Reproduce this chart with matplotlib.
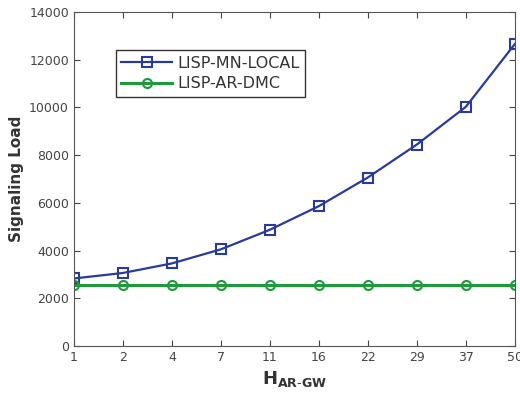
import numpy as np
import matplotlib.pyplot as plt

x_labels = ['1', '2', '4', '7', '11', '16', '22', '29', '37', '50']
mn_local = [2830, 3060, 3460, 4050, 4870, 5860, 7060, 8440, 10020, 12650]
ar_dmc = [2560, 2560, 2560, 2560, 2560, 2560, 2560, 2560, 2560, 2560]

fig = plt.figure(figsize=(5.2, 3.95), dpi=100)
ax = fig.add_axes([0.142, 0.124, 0.848, 0.846])
xs = np.arange(len(x_labels))

ax.plot(xs, mn_local, color='#2a3a9a', marker='s', markersize=7, mfc='none', mew=1.5, lw=1.6, label='LISP-MN-LOCAL')
ax.plot(xs, ar_dmc, color='#1e9a3a', marker='o', markersize=6.5, mfc='none', mew=1.5, lw=2.2, label='LISP-AR-DMC')

ax.set_xlim(0, len(x_labels) - 1)
ax.set_ylim(0, 14000)
ax.set_xticks(xs)
ax.set_xticklabels(x_labels)
ax.set_yticks(range(0, 14001, 2000))
ax.tick_params(direction='in', top=True, right=True, labelsize=9, colors='#444444', length=4)
for s in ax.spines.values():
    s.set_color('#555555')

ax.set_ylabel('Signaling Load', fontsize=11, fontweight='bold', color='#333333')
ax.set_xlabel(r'$\mathbf{H}_{\mathbf{AR\text{-}GW}}$', fontsize=13, color='#333333')

leg = ax.legend(loc='upper left', bbox_to_anchor=(0.095, 0.885), fontsize=11.5, fancybox=False,
                edgecolor='#333333', framealpha=1, handlelength=3.2, handletextpad=0.3,
                borderpad=0.35, labelspacing=0.35, borderaxespad=0)
for t in leg.get_texts():
    t.set_color('#333333')

fig.savefig('out.png', dpi=100)
